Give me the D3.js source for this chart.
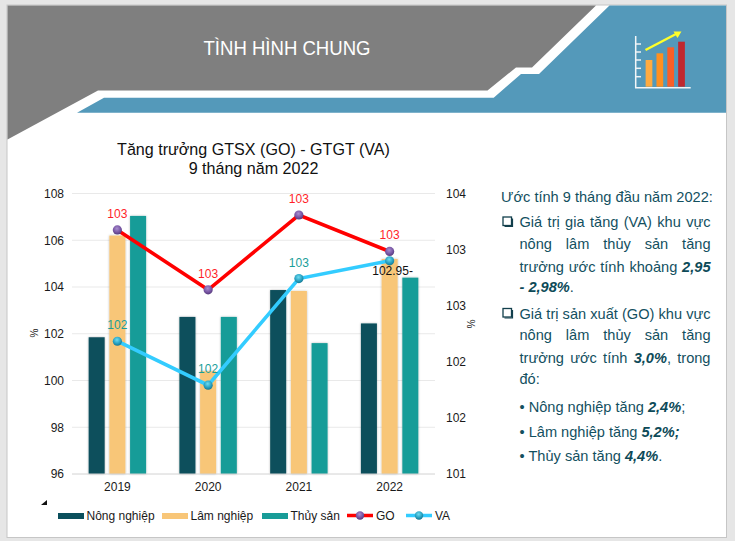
<!DOCTYPE html>
<html><head><meta charset="utf-8">
<script src="https://cdnjs.cloudflare.com/ajax/libs/d3/7.8.5/d3.min.js"></script>
<style>
html,body{margin:0;padding:0;background:#e6e6e6;width:735px;height:541px;overflow:hidden}
svg{position:absolute;left:0;top:0}
text{font-family:"Liberation Sans",Arial,sans-serif}
.ln{position:absolute;font:14.6px/20px "Liberation Sans",Arial,sans-serif;color:#13505f;white-space:nowrap}
.ln.j{white-space:normal;text-align:justify;text-align-last:justify}
.ln b{font-weight:700;font-style:italic;color:#0d4a58}
</style></head><body>
<script>
const years = ["2019","2020","2021","2022"];
const nongNghiep = [101.85,102.72,103.87,102.44];
const lamNghiep  = [106.2,100.4,103.83,105.2];
const thuySan    = [107.04,102.72,101.6,104.4];
const goValues   = [103.61,102.97,103.77,103.38];
const vaValues   = [102.42,101.95,103.09,103.28];
const goLabels   = ["103","103","103","103"];
const vaLabels   = ["102","102","103","102.95-"];
const leftTicks  = [96,98,100,102,104,106,108];
const rightTicks = [101,101.6,102.2,102.8,103.4,104];
const barNames   = ["Nông nghiệp","Lâm nghiệp","Thủy sản"];
const barColors  = ["#0b4f5c","#f8c678","#189c98"];
const iconBars   = [26.7,33.4,39.4,45];
const iconColors = ["#ffab40","#ff9020","#f95f28","#c0282f"];

const svg = d3.select("body").append("svg").attr("width",735).attr("height",541);
const defs = svg.append("defs");
function sphere(id,light,mid,dark){
  const g = defs.append("radialGradient").attr("id",id).attr("cx","45%").attr("cy","35%").attr("r","70%");
  g.append("stop").attr("offset","0%").attr("stop-color",light);
  g.append("stop").attr("offset","55%").attr("stop-color",mid);
  g.append("stop").attr("offset","100%").attr("stop-color",dark);
}
sphere("sGO","#a98fd0","#7a58a6","#4e3373");
sphere("sVA","#6fdcf0","#2aa4c4","#126f88");
const fl = defs.append("filter").attr("id","sh").attr("x","-20%").attr("y","-5%").attr("width","140%").attr("height","110%");
fl.append("feDropShadow").attr("dx",0).attr("dy",0).attr("stdDeviation",1.1).attr("flood-color","#000").attr("flood-opacity",.28);

// slide frame and header
svg.append("rect").attr("x",7).attr("y",5).attr("width",719.5).attr("height",532.5).attr("fill","#fff").attr("stroke","#c6c6c6");
const poly = (pts,fill)=>svg.append("polygon").attr("points",pts.map(p=>p.join(",")).join(" ")).attr("fill",fill);
poly([[609.5,5.5],[726,5.5],[726,112.7],[77,112.7],[104,97.7],[493.7,97.7],[521,74],[539,74]],"#5499ba");
poly([[7.5,5.5],[596,5.5],[532,67.5],[516,67.5],[487.5,90.5],[98,90.5],[7.5,139.5]],"#7f7f7f");
svg.append("text").attr("x",287).attr("y",55).attr("text-anchor","middle").attr("fill","#fff").attr("font-size",20)
  .attr("textLength",167).attr("lengthAdjust","spacingAndGlyphs").text("TÌNH HÌNH CHUNG");

// header icon
const icon = svg.append("g");
const iconX = d3.scaleBand().domain(d3.range(4)).range([641.5,689]).paddingInner(.38).paddingOuter(.38);
icon.selectAll("rect").data(iconBars).join("rect")
  .attr("x",(d,i)=>iconX(i)).attr("width",iconX.bandwidth()).attr("y",d=>86.7-d).attr("height",d=>d)
  .attr("fill",(d,i)=>iconColors[i]);
icon.append("path").attr("d","M635.7 36V87.7H690.7").attr("fill","none").attr("stroke","#f2f6f8").attr("stroke-width",1.5);
icon.selectAll("line").data([44,52,60,68.3,76.7]).join("line").attr("x1",636).attr("x2",641).attr("y1",d=>d).attr("y2",d=>d).attr("stroke","#eef3f6").attr("stroke-width",1.5);
icon.append("line").attr("x1",645.5).attr("y1",50).attr("x2",677).attr("y2",33.5).attr("stroke","#ffff2a").attr("stroke-width",2.5);
icon.append("polygon").attr("points","681.5,31.5 673.5,31.5 677.5,38").attr("fill","#ffff2a");

// chart title
const title = svg.append("g").attr("text-anchor","middle").attr("fill","#111").attr("font-size",16.1);
title.append("text").attr("x",253.5).attr("y",155).text("Tăng trưởng GTSX (GO) - GTGT (VA)");
title.append("text").attr("x",253.5).attr("y",174).text("9 tháng năm 2022");

// scales
const L=72,R=435,T=193.5,B=474;
const x = d3.scaleBand().domain(years).range([L,R]);
const x1 = d3.scaleBand().domain(barNames).range([0,x.bandwidth()]).paddingInner(.227).paddingOuter(.805);
const y = d3.scaleLinear().domain([96,108]).range([B,T]);
const y2 = d3.scaleLinear().domain([101,104]).range([B,T]);

// grid
svg.append("g").selectAll("line").data(leftTicks.slice(1)).join("line")
  .attr("x1",L).attr("x2",R).attr("y1",d=>y(d)).attr("y2",d=>y(d)).attr("stroke","#e9e9e9");

// bars
[nongNghiep,lamNghiep,thuySan].forEach((vals,s)=>{
  svg.append("g").attr("filter","url(#sh)").selectAll("rect").data(vals).join("rect")
    .attr("x",(d,i)=>x(years[i])+x1(barNames[s])).attr("width",x1.bandwidth())
    .attr("y",d=>y(d)).attr("height",d=>B-y(d)).attr("fill",barColors[s]);
});
svg.append("line").attr("x1",L).attr("x2",R).attr("y1",B).attr("y2",B).attr("stroke","#d2d2d2");

// axes
const styleAxis = g=>{g.select(".domain").remove();g.selectAll("line").remove();
  g.selectAll("text").attr("font-family",'"Liberation Sans",Arial,sans-serif').attr("font-size",12).attr("fill","#1a1a1a");};
svg.append("g").attr("transform",`translate(${L-8},0)`).call(d3.axisLeft(y).tickValues(leftTicks).tickSize(0).tickPadding(0).tickFormat(d3.format("d"))).call(styleAxis);
svg.append("g").attr("transform",`translate(${R+11},0)`).call(d3.axisRight(y2).tickValues(rightTicks).tickSize(0).tickPadding(0).tickFormat(d3.format(".0f"))).call(styleAxis);
svg.append("g").attr("transform",`translate(0,${B+5})`).call(d3.axisBottom(x).tickSize(0).tickPadding(3)).call(styleAxis);
svg.append("text").attr("transform","translate(38,333) rotate(-90)").attr("text-anchor","middle").attr("font-size",10).attr("fill","#222").text("%");
svg.append("text").attr("transform","translate(467,324) rotate(90)").attr("text-anchor","middle").attr("font-size",10).attr("fill","#222").text("%");

// lines
const cx = i=>x(years[i])+x.bandwidth()/2;
const line = d3.line().x((d,i)=>cx(i)).y(d=>y2(d));
const drawLine=(vals,col,grad)=>{
  svg.append("path").attr("d",line(vals)).attr("fill","none").attr("stroke",col).attr("stroke-width",3.6);
  svg.append("g").selectAll("circle").data(vals).join("circle").attr("cx",(d,i)=>cx(i)).attr("cy",d=>y2(d)).attr("r",4.6).attr("fill",`url(#${grad})`);
};
drawLine(goValues,"#ff0000","sGO");
drawLine(vaValues,"#33ccff","sVA");

// data labels
svg.append("g").selectAll("text").data(goValues).join("text")
  .attr("x",(d,i)=>cx(i)).attr("y",d=>y2(d)-12).attr("text-anchor","middle").attr("font-size",12).attr("fill","#ff1f2a")
  .text((d,i)=>goLabels[i]);
svg.append("g").selectAll("text").data(vaValues).join("text")
  .attr("x",(d,i)=>i===3?cx(i)+3:cx(i)).attr("y",(d,i)=>i===3?y2(d)+14:y2(d)-12).attr("text-anchor","middle").attr("font-size",12)
  .attr("fill",(d,i)=>i===3?"#111":"#1a9e9a")
  .text((d,i)=>vaLabels[i]);

// legend
svg.append("polygon").attr("points","47,500 47,505 41,505").attr("fill","#111");
const lg = svg.append("g").attr("font-size",12).attr("fill","#1a1a1a");
const legendX=[58,162,262];
barNames.forEach((n,i)=>{
  lg.append("rect").attr("x",legendX[i]).attr("y",513).attr("width",26).attr("height",6).attr("fill",barColors[i]);
  lg.append("text").attr("x",legendX[i]+28.5).attr("y",519.5).text(n);
});
[["GO","#ff0000","sGO",347],["VA","#33ccff","sVA",406]].forEach(([n,c,g,lx])=>{
  lg.append("line").attr("x1",lx).attr("x2",lx+26).attr("y1",515.5).attr("y2",515.5).attr("stroke",c).attr("stroke-width",3.5);
  lg.append("circle").attr("cx",lx+13).attr("cy",515.5).attr("r",4.2).attr("fill",`url(#${g})`);
  lg.append("text").attr("x",lx+29).attr("y",519.5).text(n);
});

// right text
const rows=[
 {x:501,y:187,w:213,j:0,h:"Ước tính 9 tháng đầu năm 2022:"},
 {x:519.5,y:212,w:191,j:1,h:"Giá trị gia tăng (VA) khu vực",box:1},
 {x:519.5,y:234,w:191,j:1,h:"nông lâm thủy sản tăng"},
 {x:519.5,y:256.5,w:191,j:1,h:"trưởng ước tính khoảng <b>2,95</b>"},
 {x:519.5,y:277,w:191,j:0,h:"<b>- 2,98%</b>."},
 {x:519.5,y:303.5,w:191,j:1,h:"Giá trị sản xuất (GO) khu vực",box:1},
 {x:519.5,y:325,w:191,j:1,h:"nông lâm thủy sản tăng"},
 {x:519.5,y:348,w:191,j:1,h:"trưởng ước tính <b>3,0%</b>, trong"},
 {x:519.5,y:369,w:191,j:0,h:"đó:"},
 {x:519.5,y:397,w:191,j:0,h:"• Nông nghiệp tăng <b>2,4%</b>;"},
 {x:519.5,y:422,w:191,j:0,h:"• Lâm nghiệp tăng <b>5,2%;</b>"},
 {x:519.5,y:446,w:191,j:0,h:"• Thủy sản tăng <b>4,4%</b>."}
];
rows.forEach(r=>{
  d3.select("body").append("div").attr("class","ln"+(r.j?" j":""))
    .style("left",r.x+"px").style("top",r.y+"px").style("width",r.w+"px").html(r.h);
  if(r.box){
    svg.append("rect").attr("x",503).attr("y",r.y+5).attr("width",8.5).attr("height",8.5).attr("fill","none").attr("stroke","#123f4c").attr("stroke-width",1.3);
    svg.append("path").attr("d",`M512.5 ${r.y+6.5}V${r.y+14.5}H504.5`).attr("fill","none").attr("stroke","#123f4c").attr("stroke-width",1.2);
  }
});
</script>
</body></html>
